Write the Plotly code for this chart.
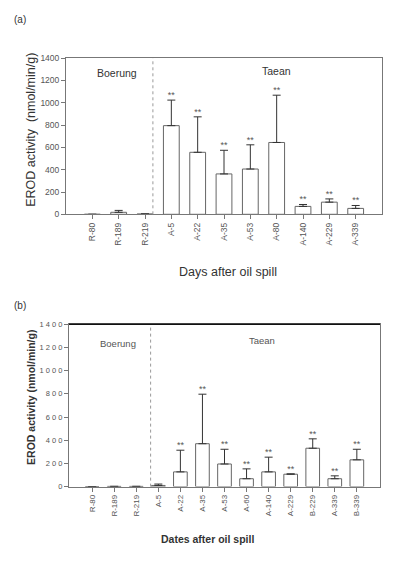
import plotly.graph_objects as go

# ---- Panel (a) data ----
cats_a = ["R-80", "R-189", "R-219", "A-5", "A-22", "A-35", "A-53", "A-80", "A-140", "A-229", "A-339"]
vals_a = [0, 18, 3, 795, 556, 362, 406, 644, 71, 109, 53]
err_a = [0, 17, 0, 229, 318, 212, 217, 424, 17, 29, 26]
stars_a = ["", "", "", "**", "**", "**", "**", "**", "**", "**", "**"]

# ---- Panel (b) data ----
cats_b = ["R-80", "R-189", "R-219", "A-5", "A-22", "A-35", "A-53", "A-60", "A-140", "A-229", "B-229", "A-339", "B-339"]
vals_b = [0, 2, 2, 10, 127, 370, 195, 68, 127, 107, 331, 68, 231]
err_b = [0, 0, 0, 12, 187, 427, 127, 85, 127, 3, 81, 25, 91]
stars_b = ["", "", "", "", "**", "**", "**", "**", "**", "**", "**", "**", "**"]

yticks = [0, 200, 400, 600, 800, 1000, 1200, 1400]
ytick_text = ["0", "200", "400", "600", "800", "1000", "1200", "1400"]
ytick_text_b = ["0", "2 0 0", "4 0 0", "6 0 0", "8 0 0", "1 0 0 0", "1 2 0 0", "1 4 0 0"]

# page body has an 8px margin, so the figure is drawn offset by 8px
OFF = 8
W, H = 400 - OFF, 563 - OFF
FONT = "Liberation Sans, Arial, sans-serif"
GRAY = "#555555"

def px(x):
    return (x - OFF) / W

def py(y):
    return 1 - (y - OFF) / H

fig = go.Figure()

def add_panel(cats, vals, errs, stars, xa, ya, bw):
    fig.add_trace(go.Bar(
        x=cats, y=vals, xaxis=xa, yaxis=ya, width=bw,
        marker=dict(color="white", line=dict(color="#666666", width=1)),
        error_y=dict(type="data", symmetric=False, array=errs,
                     arrayminus=[0] * len(errs), color="#333333",
                     thickness=1, width=4),
        showlegend=False, hoverinfo="x+y"))
    tops = [v + e for v, e in zip(vals, errs)]
    fig.add_trace(go.Scatter(
        x=cats, y=tops, xaxis=xa, yaxis=ya, mode="text", text=stars,
        textposition="top center",
        textfont=dict(family=FONT, size=9, color=GRAY),
        showlegend=False, hoverinfo="skip"))

add_panel(cats_a, vals_a, err_a, stars_a, "x", "y", 0.6)
add_panel(cats_b, vals_b, err_b, stars_b, "x2", "y2", 0.62)

axis_common = dict(showline=True, linecolor="#777777", linewidth=1,
                   ticks="outside", ticklen=4, tickcolor="#777777",
                   showgrid=False, zeroline=False, mirror=True)

fig.update_layout(
    width=W, height=H,
    margin=dict(l=0, r=0, t=0, b=0),
    paper_bgcolor="white", plot_bgcolor="white",
    bargap=0.4,
    xaxis=dict(domain=[px(66), px(382)], anchor="y", type="category",
               range=[-1, 11], tickangle=-90,
               tickfont=dict(family=FONT, size=8.5, color=GRAY),
               **axis_common),
    yaxis=dict(domain=[py(213), py(54)], anchor="x",
               range=[0, 1400], tickvals=yticks, ticktext=ytick_text,
               tickfont=dict(family=FONT, size=8.5, color=GRAY),
               **axis_common),
    xaxis2=dict(domain=[px(69), px(380)], anchor="y2", type="category",
                range=[-1.05, 13.05], tickangle=-90,
                tickfont=dict(family=FONT, size=8, color=GRAY),
                **axis_common),
    yaxis2=dict(domain=[py(490.3), py(325)], anchor="x2",
                range=[0, 1400], tickvals=yticks, ticktext=ytick_text_b,
                tickfont=dict(family=FONT, size=7.5, color=GRAY),
                **axis_common),
)

# dotted separators
fig.add_shape(type="line", xref="x", yref="y domain", x0=2.3, x1=2.3, y0=0, y1=1,
              line=dict(color="#999999", width=1, dash="dot"))
fig.add_shape(type="line", xref="x2", yref="y2 domain", x0=2.65, x1=2.65, y0=0, y1=1,
              line=dict(color="#999999", width=1, dash="dot"))
# darker top border for (b)
fig.add_shape(type="line", xref="x2 domain", yref="y2 domain", x0=0, x1=1, y0=1, y1=1,
              line=dict(color="#111111", width=1.5))

def ann(text, x, y, size, color="#333333", angle=0, bold=False, xanchor="center"):
    t = f"<b>{text}</b>" if bold else text
    fig.add_annotation(text=t, x=px(x), y=py(y), xref="paper", yref="paper",
                       showarrow=False, textangle=angle, xanchor=xanchor, yanchor="middle",
                       font=dict(family=FONT, size=size, color=color))

ann("(a)", 12, 15, 10, xanchor="left")
ann("(b)", 12, 306, 10, xanchor="left")
ann("Boerung", 117, 69, 10.5)
ann("Taean", 276, 67, 10.5)
ann("Boerung", 118, 345, 9.5, color=GRAY)
ann("Taean", 262, 342, 9.5, color=GRAY)
ann("EROD activity  (nmol/min/g)", 31, 127, 12.5, angle=-90)
ann("EROD activity (nmol/min/g)", 31, 400, 10.5, angle=-90, bold=True)
ann("Days after oil spill", 228, 272, 12.5)
ann("Dates after oil spill", 207, 544, 10.5, bold=True)

fig.write_html("out.html")
